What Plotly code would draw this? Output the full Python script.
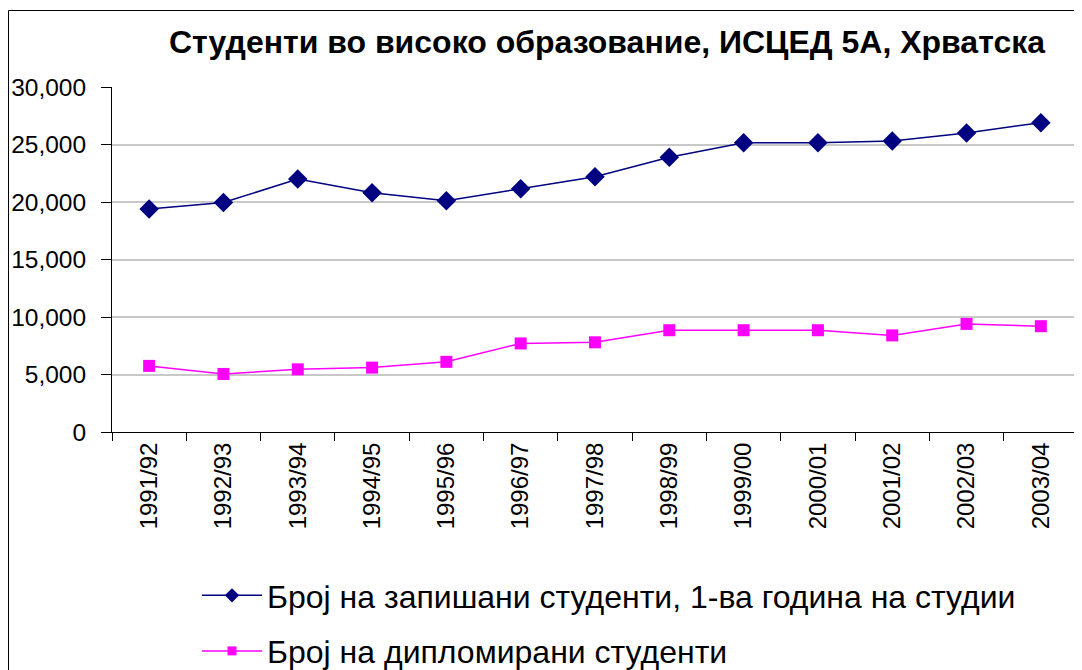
import plotly.graph_objects as go

years = ["1991/92", "1992/93", "1993/94", "1994/95", "1995/96", "1996/97", "1997/98",
         "1998/99", "1999/00", "2000/01", "2001/02", "2002/03", "2003/04"]
enrolled = [19400, 19950, 22000, 20800, 20100, 21150, 22200,
            23900, 25150, 25150, 25300, 26000, 26900]
graduated = [5750, 5050, 5450, 5600, 6100, 7700, 7800,
             8850, 8850, 8850, 8400, 9400, 9200]

title_text = "Студенти во високо образование, ИСЦЕД 5А, Хрватска"
name_enrolled = "Број на запишани студенти, 1-ва година на студии"
name_graduated = "Број на дипломирани студенти"

FONT = "Liberation Sans, Arial, sans-serif"
NAVY = "#000080"
MAGENTA = "#FF00FF"

fig = go.Figure()
# data traces
fig.add_trace(go.Scatter(
    x=years, y=enrolled, mode="lines+markers", name=name_enrolled,
    showlegend=False,
    line=dict(color=NAVY, width=1.5),
    marker=dict(symbol="diamond", size=15, color=NAVY),
))
fig.add_trace(go.Scatter(
    x=years, y=graduated, mode="lines+markers", name=name_graduated,
    showlegend=False,
    line=dict(color=MAGENTA, width=1.5),
    marker=dict(symbol="square", size=12, color=MAGENTA),
))
# legend entries (smaller symbols as in the reference)
fig.add_trace(go.Scatter(
    x=[None], y=[None], mode="lines+markers", name=name_enrolled,
    legendgroup="a",
    line=dict(color=NAVY, width=1.5),
    marker=dict(symbol="diamond", size=11, color=NAVY),
))
fig.add_trace(go.Scatter(
    x=[None], y=[None], mode="lines+markers", name=name_graduated,
    legendgroup="b",
    line=dict(color=MAGENTA, width=1.5),
    marker=dict(symbol="square", size=9, color=MAGENTA),
))

# page body has an 8px margin; figure coordinates = page coordinates - 8
W, H = 1074, 662
L, R, T, B = 104, 4, 79, 238
pw = W - L - R
ph = H - T - B

def px_to_paper_x(px):
    return (px - L) / pw

def py_to_paper_y(py):
    return (H - B - py) / ph

fig.update_layout(
    width=W, height=H,
    margin=dict(l=L, r=R, t=T, b=B, autoexpand=False),
    paper_bgcolor="white", plot_bgcolor="white",
    font=dict(family=FONT, color="black", size=24),
    title=dict(text="<b>" + title_text + "</b>", x=px_to_paper_x(599), xref="paper",
               xanchor="center", y=1 - 34 / H, yref="container", yanchor="middle",
               font=dict(family=FONT, size=32, color="black")),
    showlegend=True,
    legend=dict(orientation="v", x=px_to_paper_x(189), xanchor="left",
                y=py_to_paper_y(560), yanchor="top",
                font=dict(family=FONT, size=32, color="black"),
                tracegroupgap=11, itemwidth=60, bgcolor="rgba(0,0,0,0)"),
    xaxis=dict(
        type="category", tickson="boundaries", ticks="outside", ticklen=8,
        tickcolor="black", showline=True, linecolor="black", linewidth=1,
        tickangle=-90, showgrid=False, tickfont=dict(size=24), automargin=False,
        range=[-0.5, len(years) - 0.5],
    ),
    yaxis=dict(
        range=[0, 30000], dtick=5000, tickformat=",", ticks="outside", ticklen=10,
        tickcolor="black", showline=True, linecolor="black", linewidth=1,
        showgrid=True, gridcolor="#c8c8c8", gridwidth=1.5, zeroline=False,
        tickfont=dict(size=24.5), automargin=False, ticklabelstandoff=10,
    ),
    shapes=[
        dict(type="rect", xref="paper", yref="paper",
             x0=px_to_paper_x(0.5), x1=px_to_paper_x(1100),
             y0=py_to_paper_y(2.5), y1=py_to_paper_y(700),
             line=dict(color="black", width=1), fillcolor="rgba(0,0,0,0)", layer="below"),
        dict(type="line", xref="paper", yref="paper", x0=1, x1=1, y0=0, y1=1,
             line=dict(color="#a0a0a0", width=1.5)),
    ],
)

fig.write_html("out.html")
